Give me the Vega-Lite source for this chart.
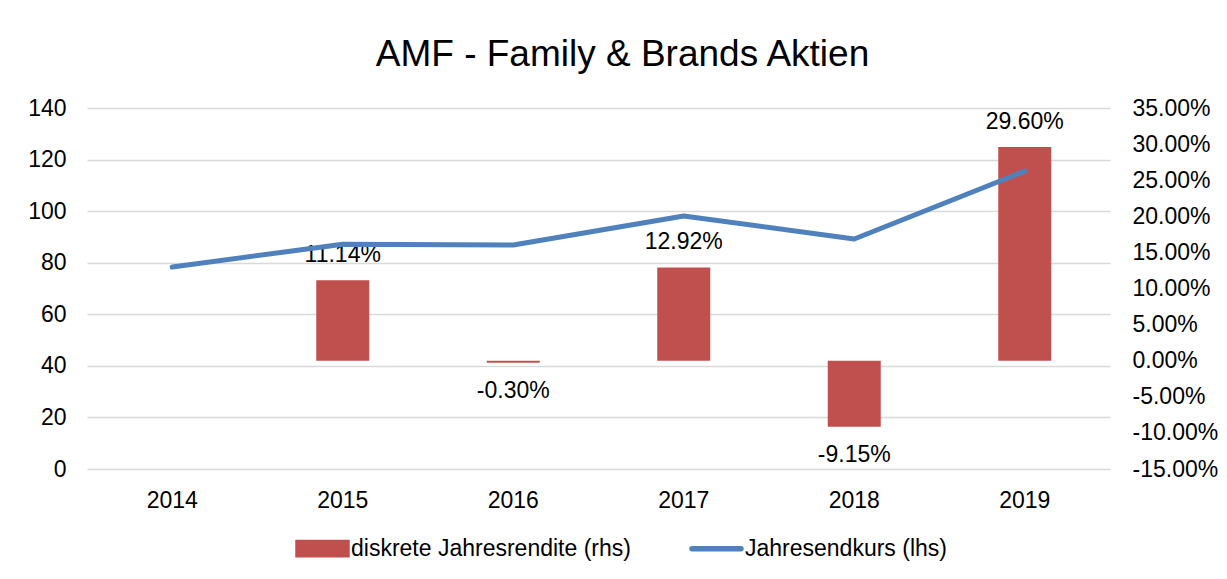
{
  "$schema": "https://vega.github.io/schema/vega-lite/v6.json",
  "width": 1023,
  "height": 361,
  "autosize": {"type": "none"},
  "padding": {"left": 87, "top": 108, "right": 117, "bottom": 110},
  "background": "white",
  "config": {
    "font": "Liberation Sans",
    "view": {"stroke": null},
    "locale": {"number": {"decimal": ".", "thousands": ",", "grouping": [3], "currency": ["", ""], "minus": "-"}},
    "axis": {"labelFont": "Liberation Sans", "labelFontSize": 23, "labelColor": "#000000", "ticks": false, "domain": false, "title": null}
  },
  "title": {
    "text": "AMF - Family & Brands Aktien",
    "fontSize": 37,
    "fontWeight": "normal",
    "font": "Liberation Sans",
    "color": "#000000",
    "anchor": "middle",
    "frame": "group",
    "dx": 24,
    "baseline": "alphabetic",
    "offset": -6
  },
  "data": {
    "values": [
      {"year": "2014", "kurs": 78.3, "rendite": null},
      {"year": "2015", "kurs": 87.2, "rendite": 0.1114},
      {"year": "2016", "kurs": 86.9, "rendite": -0.003},
      {"year": "2017", "kurs": 98.1, "rendite": 0.1292},
      {"year": "2018", "kurs": 89.2, "rendite": -0.0915},
      {"year": "2019", "kurs": 115.5, "rendite": 0.296}
    ]
  },
  "encoding": {
    "x": {
      "field": "year",
      "type": "ordinal",
      "scale": {"paddingInner": 0, "paddingOuter": 0},
      "axis": {"labelAngle": 0, "labelPadding": 20, "grid": false}
    }
  },
  "layer": [
    {
      "encoding": {
        "y": {
          "field": "rendite",
          "type": "quantitative",
          "scale": {"domain": [-0.15, 0.35], "nice": false, "zero": false},
          "axis": {"orient": "right", "format": ".2%", "values": [-0.15, -0.1, -0.05, 0, 0.05, 0.1, 0.15, 0.2, 0.25, 0.3, 0.35], "grid": false, "labelPadding": 22, "labelAlign": "left"}
        }
      },
      "layer": [
        {
          "transform": [{"filter": "datum.rendite != null"}],
          "mark": {"type": "bar", "size": 53, "color": "#C0504D"},
          "encoding": {
            "color": {
              "datum": "diskrete Jahresrendite (rhs)",
              "scale": {"domain": ["diskrete Jahresrendite (rhs)", "Jahresendkurs (lhs)"], "range": ["#C0504D", "#4F81BD"]},
              "legend": {
                "orient": "none",
                "direction": "horizontal",
                "legendX": 208,
                "legendY": 413,
                "title": null,
                "labelFont": "Liberation Sans",
                "labelFontSize": 23,
                "labelColor": "#000000",
                "labelLimit": 500,
                "labelOffset": 1,
                "columnPadding": 50,
                "symbolSize": 2400,
                "symbolStrokeWidth": 5.5,
                "encode": {
                  "symbols": {
                    "update": {
                      "shape": {"signal": "datum.value === 'Jahresendkurs (lhs)' ? 'M-1,0L1,0M-1,-0.25M-1,0.25' : 'M-1,-0.25L1,-0.25L1,0.25L-1,0.25Z'"},
                      "fill": {"signal": "datum.value === 'Jahresendkurs (lhs)' ? 'transparent' : '#C0504D'"},
                      "stroke": {"signal": "datum.value === 'Jahresendkurs (lhs)' ? '#4F81BD' : 'transparent'"},
                      "strokeWidth": {"value": 5.5},
                      "strokeCap": {"value": "round"},
                      "opacity": {"value": 1}
                    }
                  }
                }
              }
            }
          }
        },
        {
          "transform": [{"filter": "datum.rendite != null && datum.rendite >= 0"}],
          "mark": {"type": "text", "fontSize": 23, "color": "#000000", "baseline": "middle", "dy": -25, "font": "Liberation Sans"},
          "encoding": {"text": {"field": "rendite", "type": "quantitative", "format": ".2%"}}
        },
        {
          "transform": [{"filter": "datum.rendite != null && datum.rendite < 0"}],
          "mark": {"type": "text", "fontSize": 23, "color": "#000000", "baseline": "middle", "dy": 28, "font": "Liberation Sans"},
          "encoding": {"text": {"field": "rendite", "type": "quantitative", "format": ".2%"}}
        }
      ]
    },
    {
      "mark": {"type": "line", "strokeWidth": 5, "strokeCap": "round", "strokeJoin": "round"},
      "encoding": {
        "y": {
          "field": "kurs",
          "type": "quantitative",
          "scale": {"domain": [0, 140], "nice": false},
          "axis": {"orient": "left", "values": [0, 20, 40, 60, 80, 100, 120, 140], "grid": true, "gridColor": "#D9D9D9", "gridWidth": 1.5, "labelPadding": 21}
        },
        "color": {"datum": "Jahresendkurs (lhs)"}
      }
    }
  ],
  "resolve": {"scale": {"y": "independent"}}
}
